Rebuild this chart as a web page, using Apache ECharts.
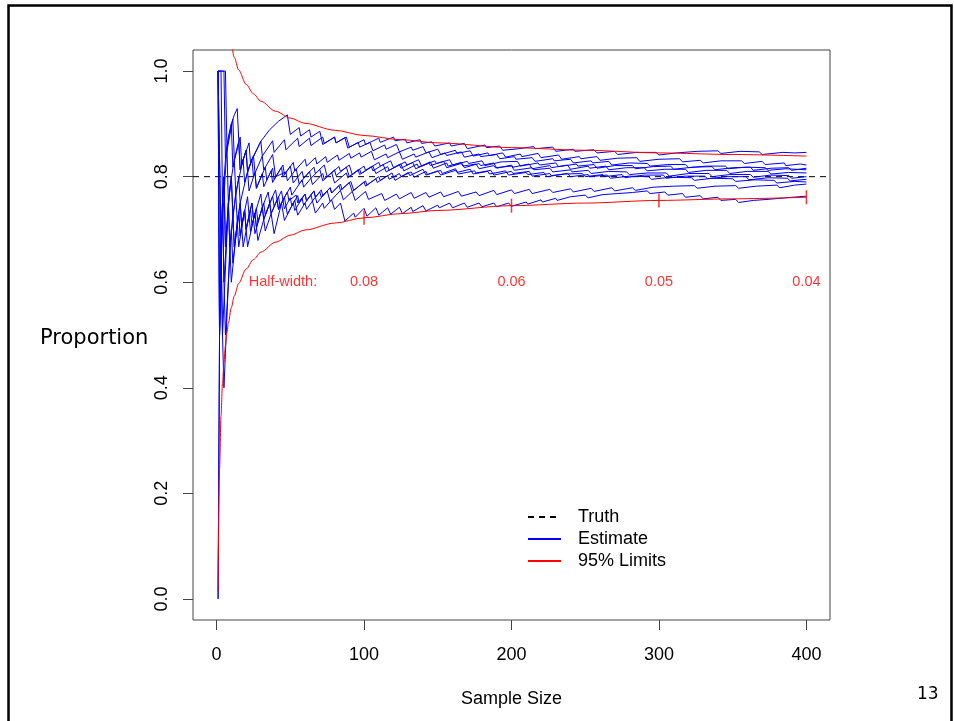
<!DOCTYPE html>
<html><head><meta charset="utf-8">
<script src="https://cdn.jsdelivr.net/npm/echarts@6/dist/echarts.min.js"></script>
<style>html,body{margin:0;padding:0;background:#fff}#c{width:954px;height:721px}</style>
</head><body><div id="c"></div>
<script>
// ---- data: [sample size, running proportion] ----
const est1 = [[1,1],[6,1],[7,.857],[10,.9],[11,.818],[16,.875],[17,.824],[22,.864],[23,.826],[30,.867],[31,.839],[38,.868],[39,.846],[46,.87],[47,.851],[55,.873],[56,.857],[63,.873],[64,.859],[72,.875],[73,.863],[80,.875],[81,.864],[88,.875],[90,.856],[100,.87],[101,.861],[110,.873],[111,.865],[120,.875],[121,.868],[128,.871],[129,.864],[138,.87],[139,.863],[146,.866],[148,.858],[158,.864],[159,.858],[168,.863],[170,.853],[182,.86],[183,.855],[192,.858],[194,.85],[205,.853],[215,.857],[216,.853],[228,.856],[230,.848],[242,.852],[243,.848],[256,.851],[258,.845],[270,.848],[272,.842],[285,.846],[286,.843],[298,.846],[300,.841],[312,.845],[313,.842],[326,.848],[327,.845],[340,.849],[342,.844],[355,.848],[356,.845],[368,.847],[370,.842],[384,.846],[385,.843],[392,.845],[393,.842],[400,.846]];
const est2 = [[1,1],[5,1],[6,.833],[11,.909],[12,.833],[15,.867],[16,.813],[20,.85],[21,.81],[24,.833],[30,.867],[36,.889],[42,.905],[48,.917],[50,.88],[56,.893],[57,.877],[63,.889],[64,.875],[70,.886],[72,.861],[80,.875],[81,.864],[87,.874],[89,.854],[96,.865],[97,.856],[104,.865],[106,.849],[114,.86],[115,.852],[122,.861],[124,.847],[132,.856],[133,.85],[140,.857],[142,.845],[150,.852],[152,.842],[162,.85],[163,.844],[172,.849],[174,.839],[184,.845],[185,.84],[194,.845],[196,.837],[206,.843],[207,.838],[218,.844],[220,.836],[232,.841],[234,.833],[246,.838],[247,.834],[258,.838],[260,.831],[272,.835],[273,.832],[285,.836],[287,.829],[300,.833],[301,.83],[314,.834],[316,.828],[328,.831],[330,.826],[342,.83],[343,.827],[356,.83],[358,.825],[370,.829],[372,.823],[385,.826],[386,.821],[396,.824],[397,.821],[400,.822]];
const est3 = [[1,1],[3,1],[4,.75],[6,.833],[8,.875],[10,.9],[12,.917],[14,.929],[16,.813],[20,.85],[21,.81],[25,.84],[27,.778],[31,.806],[32,.781],[37,.811],[38,.789],[44,.818],[45,.8],[50,.82],[52,.788],[58,.81],[59,.797],[66,.818],[67,.806],[73,.822],[75,.8],[83,.819],[84,.81],[90,.822],[92,.804],[100,.82],[101,.812],[110,.827],[111,.82],[118,.83],[120,.817],[128,.828],[129,.822],[137,.832],[139,.82],[148,.83],[149,.825],[158,.832],[160,.822],[170,.829],[171,.825],[180,.83],[182,.821],[193,.828],[194,.825],[204,.829],[206,.82],[218,.826],[219,.822],[230,.826],[232,.819],[244,.824],[245,.82],[256,.823],[258,.816],[270,.821],[271,.818],[282,.821],[284,.815],[296,.819],[297,.816],[308,.82],[310,.814],[323,.818],[324,.815],[336,.819],[338,.813],[350,.817],[351,.814],[362,.818],[364,.812],[376,.816],[377,.813],[388,.817],[390,.812],[400,.816]];
const est4 = [[1,0],[2,.5],[3,.667],[4,.75],[5,.8],[6,.667],[8,.75],[10,.8],[11,.727],[15,.8],[16,.75],[21,.81],[22,.773],[26,.808],[27,.778],[33,.818],[34,.794],[38,.816],[39,.795],[45,.822],[46,.804],[52,.827],[53,.811],[60,.833],[61,.82],[67,.836],[68,.824],[74,.838],[75,.827],[82,.841],[83,.831],[90,.844],[91,.835],[97,.845],[98,.837],[105,.848],[107,.832],[115,.843],[116,.836],[124,.847],[126,.833],[134,.843],[135,.837],[144,.847],[146,.836],[155,.845],[156,.84],[166,.847],[168,.837],[178,.843],[179,.838],[190,.842],[192,.834],[202,.838],[203,.833],[214,.836],[216,.829],[228,.834],[229,.83],[240,.833],[242,.826],[254,.83],[255,.826],[266,.829],[268,.822],[280,.826],[281,.823],[292,.825],[294,.82],[306,.823],[307,.82],[318,.823],[320,.817],[332,.82],[333,.817],[345,.82],[347,.815],[359,.818],[360,.815],[372,.817],[374,.812],[386,.815],[387,.812],[400,.813]];
const est5 = [[1,1],[2,1],[3,.667],[4,.75],[5,.8],[6,.667],[9,.778],[12,.833],[13,.769],[18,.833],[19,.789],[24,.833],[25,.8],[31,.839],[32,.813],[38,.842],[40,.8],[47,.809],[48,.792],[54,.815],[56,.786],[63,.81],[64,.797],[70,.814],[72,.792],[80,.813],[81,.802],[88,.818],[90,.8],[97,.814],[98,.806],[106,.82],[108,.806],[116,.819],[117,.812],[125,.824],[127,.811],[136,.824],[137,.818],[145,.828],[147,.816],[156,.826],[157,.82],[166,.827],[168,.817],[178,.825],[179,.821],[188,.826],[190,.816],[200,.822],[201,.818],[212,.824],[214,.815],[226,.821],[227,.817],[238,.822],[240,.814],[252,.82],[253,.816],[264,.82],[266,.813],[278,.817],[279,.814],[290,.817],[292,.811],[304,.814],[305,.811],[318,.814],[320,.808],[332,.812],[333,.809],[346,.812],[348,.806],[360,.81],[361,.807],[374,.81],[376,.805],[388,.808],[389,.805],[400,.807]];
const est6 = [[1,1],[2,.5],[4,.75],[5,.6],[8,.75],[9,.667],[11,.727],[12,.667],[16,.75],[17,.706],[21,.762],[22,.727],[24,.75],[26,.692],[31,.742],[32,.719],[38,.763],[39,.744],[44,.773],[45,.756],[50,.78],[51,.765],[58,.794],[59,.78],[64,.797],[65,.785],[72,.806],[73,.795],[78,.808],[80,.788],[88,.807],[89,.798],[96,.813],[97,.804],[105,.819],[106,.811],[113,.823],[115,.809],[124,.823],[125,.816],[133,.827],[135,.815],[144,.826],[145,.821],[154,.829],[156,.817],[166,.825],[167,.82],[176,.824],[178,.815],[188,.821],[189,.817],[200,.82],[202,.812],[214,.817],[215,.813],[226,.816],[228,.809],[240,.813],[241,.809],[252,.812],[254,.806],[266,.81],[267,.807],[278,.809],[280,.804],[292,.807],[293,.804],[305,.807],[307,.801],[320,.806],[321,.803],[334,.806],[336,.8],[348,.804],[349,.802],[362,.804],[364,.799],[376,.803],[377,.8],[388,.802],[390,.797],[400,.8]];
const est7 = [[1,1],[2,1],[3,.667],[7,.857],[8,.75],[10,.8],[12,.667],[15,.733],[16,.688],[19,.737],[20,.7],[23,.739],[24,.708],[27,.741],[28,.714],[32,.75],[33,.727],[36,.75],[37,.73],[41,.756],[42,.738],[45,.756],[46,.739],[50,.76],[51,.745],[55,.764],[56,.75],[60,.767],[61,.754],[66,.773],[67,.761],[71,.775],[72,.764],[77,.779],[78,.769],[83,.783],[84,.774],[90,.789],[92,.772],[100,.79],[101,.782],[108,.796],[109,.789],[116,.802],[117,.795],[124,.806],[125,.8],[132,.809],[134,.799],[142,.81],[143,.804],[150,.811],[152,.803],[162,.812],[163,.808],[172,.814],[174,.805],[184,.81],[185,.805],[196,.811],[198,.803],[210,.808],[211,.804],[222,.808],[224,.8],[236,.805],[237,.802],[248,.806],[250,.8],[262,.804],[263,.8],[275,.804],[277,.798],[290,.803],[291,.8],[303,.803],[305,.797],[318,.801],[319,.798],[331,.801],[333,.796],[346,.8],[347,.797],[359,.8],[361,.794],[374,.798],[375,.795],[387,.797],[389,.792],[400,.795]];
const est8 = [[1,1],[2,.5],[3,.667],[4,.5],[8,.75],[9,.667],[13,.769],[14,.714],[16,.75],[18,.667],[22,.727],[23,.696],[26,.731],[28,.679],[32,.719],[33,.697],[37,.73],[39,.692],[44,.75],[46,.717],[52,.75],[53,.736],[58,.759],[59,.746],[64,.766],[65,.754],[70,.771],[71,.761],[77,.779],[78,.769],[84,.786],[85,.776],[91,.791],[93,.774],[101,.792],[102,.784],[110,.8],[111,.793],[119,.807],[121,.793],[130,.808],[131,.802],[140,.814],[142,.803],[152,.812],[153,.806],[162,.815],[164,.805],[175,.811],[176,.807],[186,.812],[188,.803],[200,.81],[201,.806],[212,.81],[214,.801],[226,.806],[227,.802],[238,.806],[240,.8],[252,.804],[253,.8],[265,.803],[267,.797],[280,.801],[281,.798],[293,.8],[295,.795],[308,.799],[309,.796],[322,.798],[324,.793],[336,.797],[337,.794],[350,.796],[352,.791],[365,.794],[366,.791],[378,.793],[380,.788],[392,.791],[393,.788],[400,.79]];
const est9 = [[1,1],[2,.5],[4,.75],[5,.6],[6,.5],[10,.7],[11,.636],[15,.733],[16,.688],[19,.737],[21,.667],[26,.731],[27,.704],[31,.742],[32,.719],[36,.75],[37,.73],[42,.762],[43,.744],[48,.771],[49,.755],[54,.765],[55,.75],[60,.767],[61,.754],[66,.773],[68,.75],[75,.773],[77,.753],[84,.774],[86,.756],[92,.772],[94,.755],[101,.772],[103,.757],[112,.768],[114,.755],[122,.767],[124,.758],[132,.77],[134,.759],[142,.77],[144,.761],[152,.771],[154,.762],[164,.772],[166,.763],[176,.771],[178,.764],[188,.774],[190,.766],[200,.775],[202,.768],[212,.776],[214,.768],[226,.776],[228,.77],[240,.777],[242,.771],[254,.778],[256,.772],[268,.779],[270,.773],[282,.779],[284,.774],[296,.78],[297,.777],[310,.782],[311,.779],[324,.783],[326,.778],[338,.782],[339,.779],[352,.783],[354,.778],[366,.782],[367,.78],[380,.784],[382,.779],[392,.784],[393,.782],[400,.786]];
const est10 = [[1,0],[2,.5],[3,.667],[4,.5],[5,.4],[9,.667],[10,.6],[14,.714],[15,.667],[19,.737],[20,.7],[24,.75],[25,.72],[30,.767],[31,.742],[35,.771],[36,.75],[40,.775],[42,.738],[46,.761],[48,.729],[53,.755],[55,.727],[60,.75],[61,.738],[65,.754],[67,.731],[72,.75],[73,.74],[78,.756],[80,.738],[84,.75],[87,.716],[93,.731],[94,.723],[100,.74],[102,.725],[108,.741],[110,.727],[116,.741],[118,.729],[124,.742],[126,.73],[132,.742],[133,.734],[140,.745],[142,.735],[150,.746],[151,.741],[158,.75],[160,.741],[168,.75],[170,.742],[178,.75],[180,.743],[188,.75],[190,.743],[198,.75],[200,.744],[210,.752],[211,.748],[220,.756],[221,.752],[230,.759],[231,.755],[240,.762],[241,.759],[250,.765],[252,.76],[262,.766],[263,.763],[272,.768],[273,.765],[282,.77],[283,.768],[292,.773],[294,.768],[304,.771],[306,.765],[316,.768],[318,.761],[328,.764],[330,.758],[340,.761],[342,.755],[352,.757],[354,.751],[364,.755],[365,.753],[374,.757],[375,.755],[386,.76],[387,.758],[400,.763]];

const lowerN = [1,2,3,4,5,6,7,8,10,12,15,20,25,30,40,50,60,80,100,125,150,200,250,300,350,400];
const lowerLimit = [.016,.246,.347,.408,.449,.480,.504,.523,.552,.574,.598,.625,.643,.657,.676,.689,.699,.712,.722,.730,.736,.745,.750,.755,.758,.761];
const upperN = [8,10,12,15,20,25,30,40,50,60,80,100,125,150,200,250,300,350,400];
const upperLimit = [1.077,1.048,1.026,1.002,.975,.957,.943,.924,.911,.901,.888,.878,.870,.864,.855,.850,.845,.842,.839];

const truthValue = 0.8;
const markN = [100,200,300,400];
const markLower = [.722,.745,.755,.761];
const halfWidthN = [45,100,200,300,400];
const halfWidthLabels = ['Half-width:','0.08','0.06','0.05','0.04'];
const halfWidthRow = 0.6;

const xTicks = [0,100,200,300,400];
const yTicks = [0,0.2,0.4,0.6,0.8,1.0];
const xRange = [-16,416];
const yRange = [-0.04,1.04];

// ---- chart ----
const chart = echarts.init(document.getElementById('c'), null, {renderer:'canvas'});
const estimates = [est1,est2,est3,est4,est5,est6,est7,est8,est9,est10];
const series = [];
series.push({name:'Truth', type:'line', data:[[xRange[0],truthValue],[xRange[1],truthValue]], symbol:'none',
  lineStyle:{color:'#000', width:1, type:[6,5]}, itemStyle:{color:'#000'}, z:1, silent:true});
estimates.forEach(d => series.push({name:'Estimate', type:'line', data:d, symbol:'none',
  lineStyle:{color:'#0000ff', width:1}, itemStyle:{color:'#0000ff'}, z:2, silent:true}));
series.push({name:'95% Limits', type:'line', data:upperN.map((n,i)=>[n,upperLimit[i]]), symbol:'none', smooth:0.3, smoothMonotone:'x',
  lineStyle:{color:'#ff0000', width:1}, itemStyle:{color:'#ff0000'}, z:3, silent:true});
series.push({name:'95% Limits', type:'line', data:lowerN.map((n,i)=>[n,lowerLimit[i]]), symbol:'none', smooth:0.3, smoothMonotone:'x',
  lineStyle:{color:'#ff0000', width:1}, itemStyle:{color:'#ff0000'}, z:3, silent:true});
series.push({name:'marks', type:'scatter', data:markN.map((n,i)=>[n,markLower[i]]), symbol:'rect', symbolSize:[1.5,14],
  itemStyle:{color:'#ff0000'}, z:4, silent:true});
series.push({name:'halfwidth', type:'scatter', symbolSize:0, z:5, silent:true,
  data:halfWidthN.map((n,i)=>({value:[n,halfWidthRow], label:{formatter:halfWidthLabels[i]}})),
  label:{show:true, position:'inside', color:'#ff0000', fontSize:14.5}});

chart.setOption({
  animation:false,
  backgroundColor:'#fff',
  textStyle:{fontFamily:'"Liberation Sans", Arial, sans-serif'},
  grid:{left:193, right:124, top:50, bottom:101, show:true, borderColor:'#444', borderWidth:1, backgroundColor:'transparent'},
  xAxis:{type:'value', min:xRange[0], max:xRange[1],
    axisLine:{show:false, onZero:false}, splitLine:{show:false},
    axisTick:{show:true, length:10, customValues:xTicks, lineStyle:{color:'#444'}},
    axisLabel:{customValues:xTicks, fontSize:18, color:'#000', margin:26},
    name:'Sample Size', nameLocation:'middle', nameGap:70, nameTextStyle:{fontSize:18, color:'#000'}},
  yAxis:{type:'value', min:yRange[0], max:yRange[1],
    axisLine:{show:false, onZero:false}, splitLine:{show:false},
    axisTick:{show:true, length:10, customValues:yTicks, lineStyle:{color:'#444'}},
    axisLabel:{customValues:yTicks, fontSize:18, color:'#000', margin:22, rotate:90, formatter:v=>v.toFixed(1)}},
  legend:{data:['Truth','Estimate','95% Limits'], orient:'vertical', left:527, top:508, padding:0,
    itemWidth:33, itemHeight:18, itemGap:4, selectedMode:false,
    itemStyle:{opacity:0},
    textStyle:{fontSize:18, color:'#000', padding:[0,0,0,12]}},
  graphic:[
    {type:'polyline', shape:{points:[[8.5,730],[8.5,5.5],[951.5,5.5],[951.5,730]]}, style:{stroke:'#000', lineWidth:2.5, fill:null}, silent:true},
    {type:'text', x:40, y:339, style:{text:'Proportion', fontSize:21, fill:'#000', fontFamily:'"DejaVu Sans", sans-serif', verticalAlign:'middle', align:'left'}, silent:true},
    {type:'text', left:917, top:686, style:{text:'13', fontSize:17, fill:'#000', fontFamily:'"DejaVu Sans", sans-serif'}, silent:true}
  ],
  series:series
});
</script></body></html>
